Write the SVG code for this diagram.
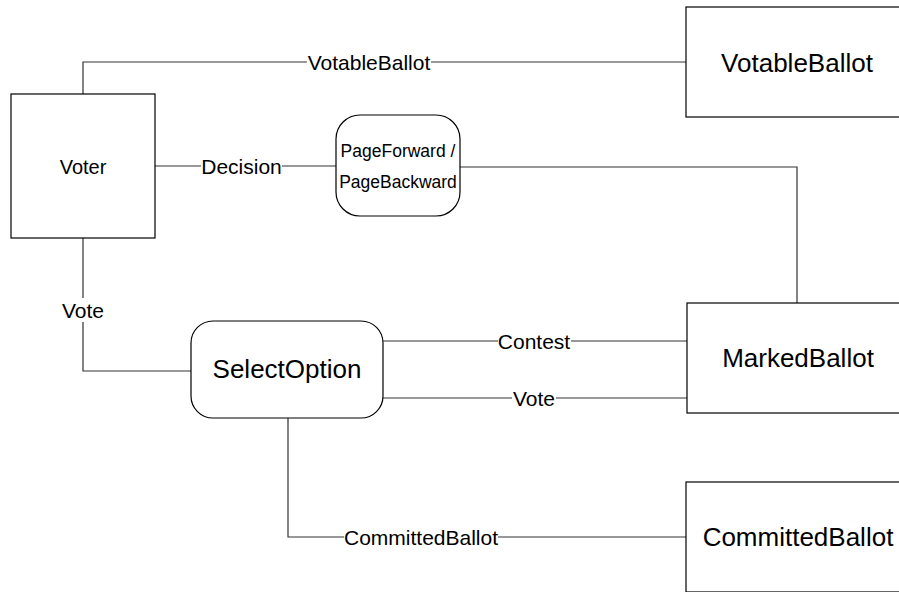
<svg xmlns="http://www.w3.org/2000/svg" width="899" height="592" viewBox="0 0 899 592">
<style>
.box{fill:#fff;stroke:#000;stroke-width:1.2}
.conn{fill:none;stroke:#333;stroke-width:1.2}
.lbl{font-family:"Liberation Sans",Arial,sans-serif;font-size:21px;fill:#000;text-anchor:middle;dominant-baseline:central}
.big{font-family:"Liberation Sans",Arial,sans-serif;font-size:26px;fill:#000;text-anchor:middle;dominant-baseline:central}
.mid{font-family:"Liberation Sans",Arial,sans-serif;font-size:17.5px;fill:#000;text-anchor:middle;dominant-baseline:central}
.bg{fill:#fff}
</style>
<rect width="899" height="592" fill="#fff"/>
<g id="connectors">
<polyline class="conn" points="83,94 83,62 686,62"/>
<line class="conn" x1="155" y1="166" x2="336" y2="166"/>
<polyline class="conn" points="460,167 797,167 797,303"/>
<polyline class="conn" points="83,238 83,371 191,371"/>
<line class="conn" x1="383" y1="341" x2="687" y2="341"/>
<line class="conn" x1="383" y1="398" x2="687" y2="398"/>
<polyline class="conn" points="288,418 288,537 686,537"/>
<rect class="bg" x="307" y="51" width="124" height="22"/>
<text class="lbl" x="369" y="62">VotableBallot</text>
<rect class="bg" x="201" y="155" width="81" height="22"/>
<text class="lbl" x="241.5" y="166">Decision</text>
<rect class="bg" x="61" y="298" width="44" height="24"/>
<text class="lbl" x="83" y="310">Vote</text>
<rect class="bg" x="498" y="330" width="73" height="22"/>
<text class="lbl" x="534" y="341">Contest</text>
<rect class="bg" x="512" y="387" width="44" height="22"/>
<text class="lbl" x="534" y="398">Vote</text>
<rect class="bg" x="344" y="526" width="154" height="22"/>
<text class="lbl" x="421" y="537">CommittedBallot</text>
</g>
<g id="voter">
<rect class="box" x="11" y="94" width="144" height="144"/>
<text class="lbl" x="83" y="167" style="font-size:20px">Voter</text>
</g>
<g id="votableballot">
<rect class="box" x="686" y="7" width="230" height="110"/>
<text class="big" x="797" y="63">VotableBallot</text>
</g>
<g id="pageforward">
<rect class="box" x="336" y="115" width="124" height="101" rx="24" ry="24"/>
<text class="mid" x="398" y="151">PageForward /</text>
<text class="mid" x="398" y="182">PageBackward</text>
</g>
<g id="markedballot">
<rect class="box" x="687" y="303" width="230" height="110"/>
<text class="big" x="798" y="358">MarkedBallot</text>
</g>
<g id="selectoption">
<rect class="box" x="191" y="321" width="192" height="97" rx="22" ry="22"/>
<text class="big" x="287" y="369">SelectOption</text>
</g>
<g id="committedballot">
<rect class="box" x="686" y="482" width="230" height="110"/>
<text class="big" x="798" y="537">CommittedBallot</text>
</g>
</svg>
